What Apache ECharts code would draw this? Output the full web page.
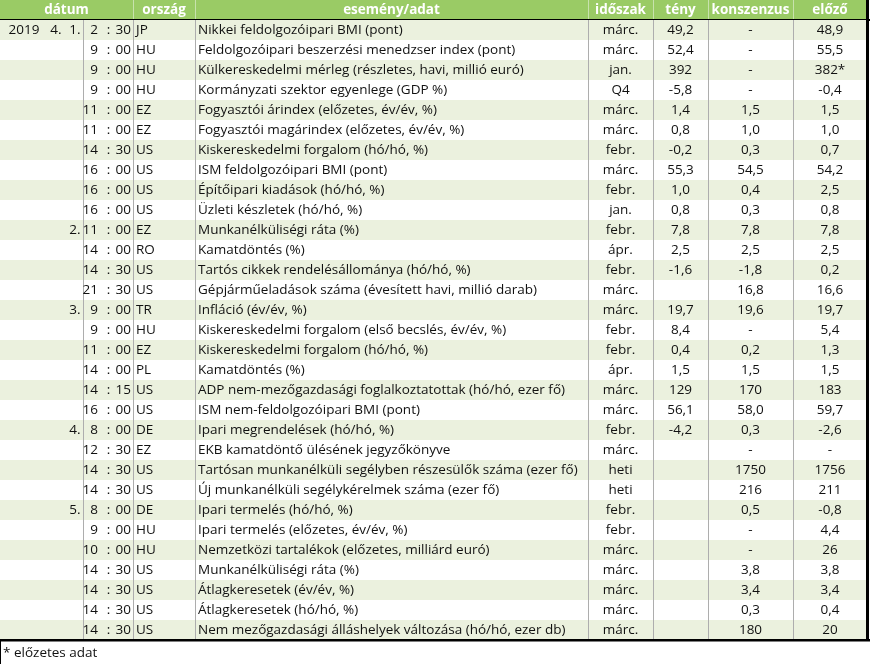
<!DOCTYPE html>
<html>
<head>
<meta charset="utf-8">
<script src="https://cdn.jsdelivr.net/npm/echarts@6/dist/echarts.min.js"></script>
<style>html,body{margin:0;padding:0;background:#fff;}#c{width:870px;height:664px;}</style>
</head>
<body>
<div id="c"></div>
<script>
// ---- data ----
const headers = ['dátum', 'ország', 'esemény/adat', 'időszak', 'tény', 'konszenzus', 'előző'];
const years = ['2019', '', '', '', '', '', '', '', '', '', '', '', '', '', '', '', '', '', '', '', '', '', '', '', '', '', '', '', '', '', ''];
const months = ['4.', '', '', '', '', '', '', '', '', '', '', '', '', '', '', '', '', '', '', '', '', '', '', '', '', '', '', '', '', '', ''];
const days = ['1.', '', '', '', '', '', '', '', '', '', '2.', '', '', '', '3.', '', '', '', '', '', '4.', '', '', '', '5.', '', '', '', '', '', ''];
const hours = ['2', '9', '9', '9', '11', '11', '14', '16', '16', '16', '11', '14', '14', '21', '9', '9', '11', '14', '14', '16', '8', '12', '14', '14', '8', '9', '10', '14', '14', '14', '14'];
const minutes = ['30', '00', '00', '00', '00', '00', '30', '00', '00', '00', '00', '00', '30', '30', '00', '00', '00', '00', '15', '00', '00', '30', '30', '30', '00', '00', '00', '30', '30', '30', '30'];
const countries = ['JP', 'HU', 'HU', 'HU', 'EZ', 'EZ', 'US', 'US', 'US', 'US', 'EZ', 'RO', 'US', 'US', 'TR', 'HU', 'EZ', 'PL', 'US', 'US', 'DE', 'EZ', 'US', 'US', 'DE', 'HU', 'HU', 'US', 'US', 'US', 'US'];
const events = [
  'Nikkei feldolgozóipari BMI (pont)',
  'Feldolgozóipari beszerzési menedzser index (pont)',
  'Külkereskedelmi mérleg (részletes, havi, millió euró)',
  'Kormányzati szektor egyenlege (GDP %)',
  'Fogyasztói árindex (előzetes, év/év, %)',
  'Fogyasztói magárindex (előzetes, év/év, %)',
  'Kiskereskedelmi forgalom (hó/hó, %)',
  'ISM feldolgozóipari BMI (pont)',
  'Építőipari kiadások (hó/hó, %)',
  'Üzleti készletek (hó/hó, %)',
  'Munkanélküliségi ráta (%)',
  'Kamatdöntés (%)',
  'Tartós cikkek rendelésállománya (hó/hó, %)',
  'Gépjárműeladások száma (évesített havi, millió darab)',
  'Infláció (év/év, %)',
  'Kiskereskedelmi forgalom (első becslés, év/év, %)',
  'Kiskereskedelmi forgalom (hó/hó, %)',
  'Kamatdöntés (%)',
  'ADP nem-mezőgazdasági foglalkoztatottak (hó/hó, ezer fő)',
  'ISM nem-feldolgozóipari BMI (pont)',
  'Ipari megrendelések (hó/hó, %)',
  'EKB kamatdöntő ülésének jegyzőkönyve',
  'Tartósan munkanélküli segélyben részesülők száma (ezer fő)',
  'Új munkanélküli segélykérelmek száma (ezer fő)',
  'Ipari termelés (hó/hó, %)',
  'Ipari termelés (előzetes, év/év, %)',
  'Nemzetközi tartalékok (előzetes, milliárd euró)',
  'Munkanélküliségi ráta (%)',
  'Átlagkeresetek (év/év, %)',
  'Átlagkeresetek (hó/hó, %)',
  'Nem mezőgazdasági álláshelyek változása (hó/hó, ezer db)'
];
const periods = ['márc.', 'márc.', 'jan.', 'Q4', 'márc.', 'márc.', 'febr.', 'márc.', 'febr.', 'jan.', 'febr.', 'ápr.', 'febr.', 'márc.', 'márc.', 'febr.', 'febr.', 'ápr.', 'márc.', 'márc.', 'febr.', 'márc.', 'heti', 'heti', 'febr.', 'febr.', 'márc.', 'márc.', 'márc.', 'márc.', 'márc.'];
const actual = ['49,2', '52,4', '392', '-5,8', '1,4', '0,8', '-0,2', '55,3', '1,0', '0,8', '7,8', '2,5', '-1,6', '', '19,7', '8,4', '0,4', '1,5', '129', '56,1', '-4,2', '', '', '', '', '', '', '', '', '', ''];
const consensus = ['-', '-', '-', '-', '1,5', '1,0', '0,3', '54,5', '0,4', '0,3', '7,8', '2,5', '-1,8', '16,8', '19,6', '-', '0,2', '1,5', '170', '58,0', '0,3', '-', '1750', '216', '0,5', '-', '-', '3,8', '3,4', '0,3', '180'];
const previous = ['48,9', '55,5', '382*', '-0,4', '1,5', '1,0', '0,7', '54,2', '2,5', '0,8', '7,8', '2,5', '0,2', '16,6', '19,7', '5,4', '1,3', '1,5', '183', '59,7', '-2,6', '-', '1756', '211', '-0,8', '4,4', '26', '3,8', '3,4', '0,4', '20'];
const footnote = '* előzetes adat';

// ---- layout (column edges on the x value axis) ----
const edges = [0, 83, 133, 195, 588, 653, 708, 793, 867];
const FONT = '"Open Sans"';
const FS = 13.5;
const rowCount = events.length;
const yCats = ['header'].concat(events.map((e, i) => String(i + 1)));

function renderRow(params, api) {
  const r = api.value(0);
  const ctr = api.coord([0, r]);
  const h = api.size([0, 1])[1];
  const y0 = ctr[1] - h / 2;
  const cy = ctr[1] + 0.5;
  const X = v => api.coord([v, r])[0];
  const kids = [];
  const isHeader = r === 0;
  const fill = isHeader ? '#9acb65' : (r % 2 === 1 ? '#ebf1de' : '#ffffff');
  kids.push({ type: 'rect', shape: { x: X(0), y: y0, width: X(edges[8]) - X(0), height: h }, style: { fill: fill } });
  const txt = (x, s, align, bold, color) => ({
    type: 'text',
    style: { x: x, y: cy, text: s, textAlign: align, textVerticalAlign: 'middle', fontFamily: FONT, fontSize: FS, fontWeight: bold ? 'bold' : 'normal', fill: color || '#111' }
  });
  if (isHeader) {
    [2, 3, 4, 5, 6, 7].forEach(k => {
      kids.push({ type: 'rect', shape: { x: X(edges[k]), y: y0, width: 1, height: h }, style: { fill: '#c8e2ad' } });
    });
    kids.push(txt((X(edges[0]) + X(edges[2])) / 2, headers[0], 'center', true, '#fff'));
    for (let k = 1; k < 7; k++) {
      kids.push(txt((X(edges[k + 1]) + X(edges[k + 2])) / 2, headers[k], 'center', true, '#fff'));
    }
    kids.push({ type: 'rect', shape: { x: X(0), y: y0 + h - 1, width: X(870) - X(0), height: 2 }, style: { fill: '#000' } });
  } else {
    const i = r - 1;
    [1, 2, 3, 4, 5, 6, 7].forEach(k => {
      kids.push({ type: 'rect', shape: { x: X(edges[k]), y: y0, width: 1, height: h }, style: { fill: '#adadad' } });
    });
    if (years[i]) kids.push(txt(X(8.5), years[i], 'left'));
    if (months[i]) kids.push(txt(X(61.5), months[i], 'right'));
    if (days[i]) kids.push(txt(X(80.5), days[i], 'right'));
    kids.push(txt(X(98), hours[i], 'right'));
    kids.push(txt(X(108.5), ':', 'center'));
    kids.push(txt(X(115.5), minutes[i], 'left'));
    kids.push(txt(X(edges[2] + 3), countries[i], 'left'));
    kids.push(txt(X(edges[3] + 3), events[i], 'left'));
    const vals = [periods[i], actual[i], consensus[i], previous[i]];
    vals.forEach((v, k) => {
      if (v) kids.push(txt((X(edges[4 + k]) + X(edges[5 + k])) / 2, v, 'center'));
    });
    if (r === rowCount) {
      kids.push({ type: 'rect', shape: { x: X(0), y: y0 + h - 1, width: X(870) - X(0), height: 2.5 }, style: { fill: '#000' } });
    }
  }
  // right outer border
  kids.push({ type: 'rect', shape: { x: X(866), y: y0, width: 3, height: h + 1 }, style: { fill: '#000' } });
  return { type: 'group', children: kids };
}

const chart = echarts.init(document.getElementById('c'), null, { renderer: 'canvas' });
chart.setOption({
  animation: false,
  backgroundColor: '#fff',
  grid: { left: 0, right: 0, top: 0, height: 640, containLabel: false },
  xAxis: { type: 'value', min: 0, max: 870, show: false },
  yAxis: { type: 'category', data: yCats, inverse: true, show: false },
  series: [{
    type: 'custom',
    renderItem: renderRow,
    clip: false,
    data: yCats.map((c, r) => [r]),
    encode: { y: 0 }
  }],
  graphic: [
    { type: 'text', left: 3, top: 646, style: { text: footnote, fontFamily: FONT, fontSize: FS, fill: '#111' } },
    { type: 'rect', left: 0, top: 560, shape: { width: 1, height: 104 }, style: { fill: '#000' } }
  ]
});
</script>
</body>
</html>
